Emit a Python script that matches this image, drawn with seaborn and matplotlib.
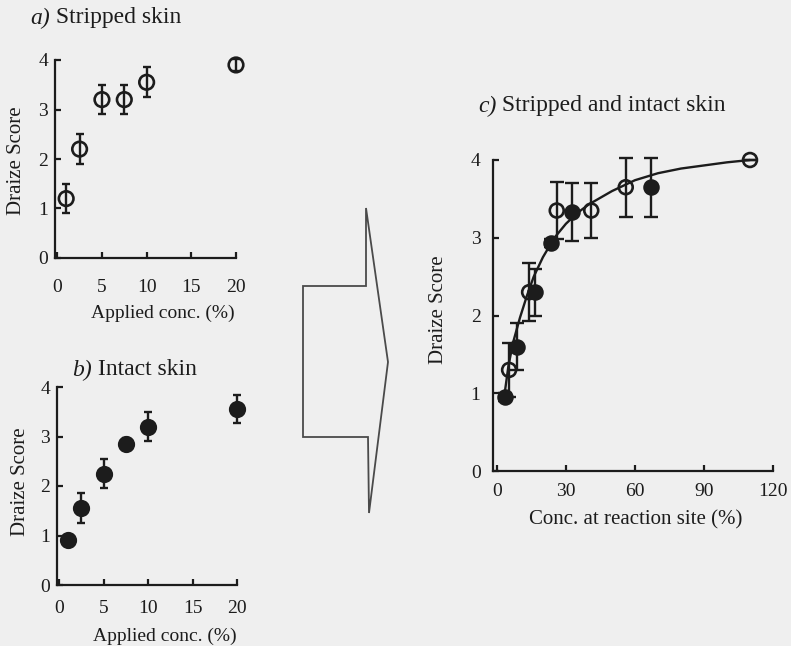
import matplotlib
matplotlib.use("Agg")
import matplotlib.pyplot as plt
from matplotlib.patches import Polygon
import pandas as pd
import seaborn as sns

# ---- data -------------------------------------------------------------
# a) stripped skin: applied concentration vs Draize score
stripped_conc = [1, 2.5, 5, 7.5, 10, 20]
stripped_score = [1.2, 2.2, 3.2, 3.2, 3.55, 3.9]
stripped_err = [0.3, 0.3, 0.3, 0.3, 0.3, 0.12]

# b) intact skin
intact_conc = [1, 2.5, 5, 7.5, 10, 20]
intact_score = [0.9, 1.55, 2.25, 2.85, 3.2, 3.55]
intact_err = [0.05, 0.3, 0.3, 0.12, 0.3, 0.28]

# c) both skin types vs concentration at the reaction site
site_open_conc = [5.3, 14, 26, 41, 56, 110]
site_open_score = [1.3, 2.3, 3.35, 3.35, 3.65, 4.0]
site_open_err = [0.35, 0.37, 0.37, 0.35, 0.38, 0.0]

site_closed_conc = [3.5, 8.7, 16.5, 23.5, 32.6, 67]
site_closed_score = [0.95, 1.6, 2.3, 2.93, 3.33, 3.65]
site_closed_err = [0.05, 0.3, 0.3, 0.05, 0.37, 0.38]

# fitted concentration-response curve
curve_conc = [3, 5, 7, 10, 13, 16, 20, 25, 30, 35, 40, 50, 60, 70, 80, 90, 100, 110]
curve_score = [0.92, 1.35, 1.65, 1.97, 2.25, 2.5, 2.75, 3.0, 3.18, 3.32, 3.43,
               3.6, 3.74, 3.83, 3.89, 3.93, 3.97, 4.0]

# ---- style ------------------------------------------------------------
sns.set_theme(style="ticks")
bg = "#efefef"
ink = "#1c1c1c"
plt.rcParams["font.family"] = ["Liberation Serif", "DejaVu Serif"]
plt.rcParams.update({
    "text.color": ink, "axes.labelcolor": ink,
    "xtick.color": ink, "ytick.color": ink, "axes.edgecolor": ink,
    "axes.linewidth": 1.6,
})

W, H = 791, 646
fig = plt.figure(figsize=(W / 100, H / 100), dpi=100, facecolor=bg)


def px_axes(x0, x1, y_top, y_bot):
    return fig.add_axes([x0 / W, (H - y_bot) / H, (x1 - x0) / W, (y_bot - y_top) / H])


def style_axes(ax, xlim, xticks, pad_x, pad_y, tick_size=14):
    ax.set_facecolor("none")
    sns.despine(ax=ax)
    ax.set_xlim(*xlim)
    ax.set_ylim(0, 4)
    ax.set_xticks(xticks)
    ax.set_yticks([0, 1, 2, 3, 4])
    ax.tick_params(direction="in", length=4.5, width=1.6, labelsize=tick_size)
    ax.tick_params(axis="x", pad=pad_x)
    ax.tick_params(axis="y", pad=pad_y)


def draw_points(ax, x, y, err, filled, ms, cap):
    df = pd.DataFrame({"x": x, "y": y, "err": err})
    ax.errorbar(df["x"], df["y"], yerr=df["err"], fmt="none", ecolor=ink,
                elinewidth=1.7, capsize=cap, capthick=1.7, clip_on=False, zorder=3)
    sns.scatterplot(data=df, x="x", y="y", ax=ax, s=ms ** 2, marker="o",
                    facecolor=ink if filled else "none", edgecolor=ink,
                    linewidth=1.9, clip_on=False, zorder=4, legend=False)


def labels(ax, xlabel, xsize, xpos, ypos):
    ax.set_xlabel(xlabel, fontsize=xsize, va="center")
    ax.set_ylabel("Draize Score", fontsize=15, va="center")
    ax.xaxis.set_label_coords(*xpos)
    ax.yaxis.set_label_coords(*ypos)


def title(x, y, tag, text, size=17):
    t = fig.text(x / W, 1 - y / H, tag, fontsize=size, style="italic", va="center", ha="left")
    fig.add_artist(plt.Annotation(" " + text, xy=(1, 0.5), xycoords=t, va="center",
                                  ha="left", fontsize=size, annotation_clip=False))


# a) stripped skin
ax_a = px_axes(55, 236, 60, 258)
style_axes(ax_a, (-0.25, 20), [0, 5, 10, 15, 20], 15, 5)
draw_points(ax_a, stripped_conc, stripped_score, stripped_err, False, 10.5, 3)
labels(ax_a, "Applied conc. (%)", 14, (0.597, -0.278), (-0.21, 0.49))

# b) intact skin
ax_b = px_axes(57, 237, 387, 585)
style_axes(ax_b, (-0.25, 20), [0, 5, 10, 15, 20], 11, 5)
draw_points(ax_b, intact_conc, intact_score, intact_err, True, 10.5, 3)
labels(ax_b, "Applied conc. (%)", 14, (0.597, -0.257), (-0.205, 0.52))

# c) combined
ax_c = px_axes(493, 773, 160, 471)
style_axes(ax_c, (-1.7, 120), [0, 30, 60, 90, 120], 9, 9)
sns.lineplot(x=curve_conc, y=curve_score, ax=ax_c, color=ink, linewidth=1.7,
             zorder=2, clip_on=False)
draw_points(ax_c, site_open_conc, site_open_score, site_open_err, False, 10, 5)
draw_points(ax_c, site_closed_conc, site_closed_score, site_closed_err, True, 10, 5)
labels(ax_c, "Conc. at reaction site (%)", 15, (0.511, -0.158), (-0.196, 0.518))

# panel headings
title(30, 18, "a)", "Stripped skin")
title(72, 370, "b)", "Intact skin")
title(478, 106, "c)", "Stripped and intact skin")

# block arrow pointing from the left panels to the combined panel
arrow_px = [(366, 208), (388, 362), (369, 513), (368, 437),
            (303, 437), (303, 286), (366, 286)]
arrow = Polygon([(x / W, 1 - y / H) for x, y in arrow_px], closed=True,
                transform=fig.transFigure, facecolor="none", edgecolor="#4a4a4a",
                linewidth=1.3, joinstyle="miter")
fig.patches.append(arrow)

fig.savefig("out.png", dpi=100, facecolor=bg)
